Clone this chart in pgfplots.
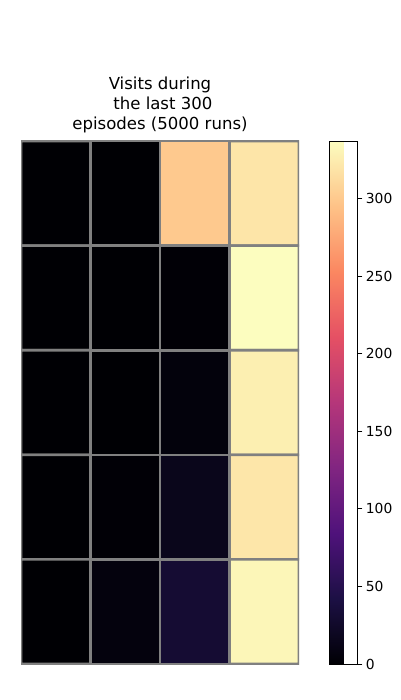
\documentclass[border=0pt]{standalone}
\usepackage{fontspec}
\setmainfont{DejaVu Sans}
\usepackage{pgfplots}
\pgfplotsset{compat=1.18}
\pgfplotsset{colormap={magma}{
 rgb255=(0,0,4) rgb255=(28,16,68) rgb255=(79,18,123) rgb255=(129,37,129)
 rgb255=(181,54,122) rgb255=(229,80,100) rgb255=(251,135,97) rgb255=(254,194,135)
 rgb255=(252,253,191)}}
\begin{document}
\begin{tikzpicture}[x=1bp,y=1bp]
\useasboundingbox (0,0) rectangle (400,700);
\begin{axis}[
  at={(21bp,36bp)}, anchor=south west,
  scale only axis, width=278bp, height=523bp,
  xmin=-0.5, xmax=3.5, ymin=-0.5, ymax=4.5,
  y dir=reverse,
  axis line style={draw=none},
  ticks=none,
  colormap name=magma,
  point meta min=0, point meta max=337,
  title={Visits during\\ \hspace{0.35em}the last 300\\ episodes (5000 runs)},
  title style={align=center, font=\fontsize{16.6}{20}\selectfont, yshift=-1bp},
  colorbar,
  colorbar style={
    at={(parent axis.north east)}, anchor=north west, xshift=22bp,
    width=28bp, height=523bp, scale only axis,
    ytick={0,50,100,150,200,250,300},
    ytick pos=right, yticklabel pos=right,
    yticklabel style={font=\fontsize{13.9}{16}\selectfont},
    /pgf/number format/assume math mode=true,
    major tick length=4.9bp,
    tick style={black, line width=0.8bp},
    tick align=outside,
    axis line style={black, line width=0.8bp},
  },
]
\addplot[matrix plot, mesh/cols=4, point meta=explicit, shader=faceted, faceted color=gray, line width=2.6bp]
 table[meta=c] {
x y c
0 0 0
1 0 0
2 0 300
3 0 320
0 1 0
1 1 0
2 1 1
3 1 337
0 2 0
1 2 0
2 2 5
3 2 327
0 3 0
1 3 1
2 3 15
3 3 321
0 4 0
1 4 6
2 4 31
3 4 332
};
\end{axis}
\end{tikzpicture}
\end{document}
